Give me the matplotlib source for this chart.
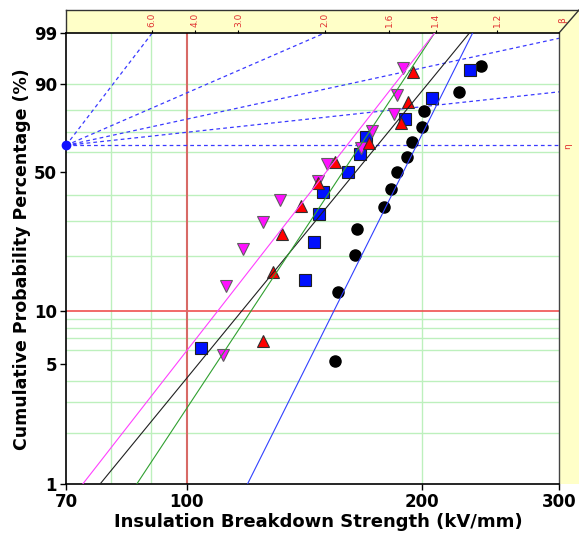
import numpy as np
import matplotlib

matplotlib.use("Agg")
import matplotlib.pyplot as plt
from matplotlib.patches import Polygon
from matplotlib.ticker import FixedLocator, NullLocator, FixedFormatter


W, H = 579, 535

circle_kv = [154.9, 156.4, 164.3, 165.2, 179.0, 182.5, 186.0, 191.7, 194.6, 200.0, 201.4, 223.5, 238.4]
circle_pct = [5.22, 12.69, 20.15, 27.61, 35.07, 42.54, 50.00, 57.46, 64.93, 72.39, 79.85, 87.31, 94.78]

square_kv = [104.2, 141.7, 145.7, 147.9, 149.4, 161.1, 166.7, 169.7, 190.4, 206.4, 230.7]
square_pct = [6.14, 14.91, 23.68, 32.46, 41.23, 50.00, 58.77, 67.54, 76.32, 85.09, 93.86]

up_kv = [125.1, 128.9, 132.4, 140.1, 147.3, 154.9, 171.2, 188.2, 192.3, 195.1]
up_pct = [6.73, 16.35, 25.96, 35.58, 45.19, 54.81, 64.42, 74.04, 83.65, 93.27]

down_kv = [111.2, 112.2, 118.2, 125.3, 131.7, 147.3, 151.1, 167.1, 172.6, 184.5, 185.8, 189.5]
down_pct = [5.65, 13.71, 21.77, 29.84, 37.90, 45.97, 54.03, 62.10, 70.16, 78.23, 86.29, 94.35]

# fitted Weibull lines: shape (beta) and scale (eta)
fit_beta = [9.22, 5.62, 6.97, 5.90]
fit_eta = [197.0, 175.5, 166.9, 160.4]
fit_colors = ["#3040ff", "#202020", "#30a030", "#ff40ff"]

# slope estimator lines through the pivot and the beta scale on top
guide_beta = [6.0, 2.0, 1.0, 0.5, 0.0]
scale_beta = [6.0, 4.0, 3.0, 2.0, 1.6, 1.4, 1.2]
scale_labels = ["6.0", "4.0", "3.0", "2.0", "1.6", "1.4", "1.2"]
pivot_kv = 70.0

y_ticks = [1, 5, 10, 50, 90, 99]
y_grid = [2, 3, 4, 6, 7, 8, 9, 20, 30, 40, 60, 70, 80, 90]
x_ticks = [70, 100, 200, 300]
x_grid = [80, 90, 200]


def weib(p):
    p = np.clip(np.asarray(p, dtype=float), 1e-6, 100 - 1e-6)
    return np.log(-np.log(1 - p / 100))


def weib_inv(w):
    return 100 * (1 - np.exp(-np.exp(np.asarray(w, dtype=float))))


def fx(px):
    return px / W


def fy(py):
    return 1 - py / H


fig = plt.figure(figsize=(W / 100, H / 100), dpi=100)
ax = fig.add_axes([fx(66), fy(484), fx(559) - fx(66), fy(33) - fy(484)])

ax.set_xscale("log")
ax.set_yscale("function", functions=(weib, weib_inv))
ax.set_xlim(70, 300)
ax.set_ylim(1, 99)

# yellow frame bands
band = "#ffffc8"
top_band = Polygon(
    [(fx(66), fy(33)), (fx(66), fy(10)), (fx(580), fy(10)), (fx(580), fy(484)),
     (fx(559), fy(484)), (fx(559), fy(33))],
    closed=True, transform=fig.transFigure, facecolor=band, edgecolor="none", zorder=-2,
)
fig.patches.append(top_band)
fig.lines.append(plt.Line2D([fx(66), fx(580)], [fy(10), fy(10)], transform=fig.transFigure,
                            color="#333333", lw=1, zorder=-1))
fig.lines.append(plt.Line2D([fx(66), fx(66)], [fy(10), fy(33)], transform=fig.transFigure,
                            color="#333333", lw=1, zorder=-1))
fig.lines.append(plt.Line2D([fx(559), fx(579)], [fy(33), fy(10)], transform=fig.transFigure,
                            color="#333333", lw=1, zorder=-1))

grid_green = "#bdf0bd"
for v in y_grid:
    ax.axhline(v, color=grid_green, lw=1, zorder=1)
for v in x_grid:
    ax.axvline(v, color=grid_green, lw=1, zorder=1)
ax.axhline(10, color="#f05050", lw=1.2, zorder=1.5)
ax.axvline(100, color="#d86a66", lw=1.5, zorder=1.5)

# slope guide lines from the pivot at 63.2 %
xs = np.geomspace(70, 300, 400)
for b in guide_beta:
    ax.plot(xs, weib_inv(b * np.log(xs / pivot_kv)), color="#3a3aff", lw=0.9,
            dashes=(3, 2.5), zorder=2)
ax.plot([pivot_kv], [weib_inv(0)], "o", color="#1010ff", ms=6, clip_on=False, zorder=6)

ax.plot(circle_kv, circle_pct, "o", color="black", mec="black", ms=8, zorder=3)
ax.plot(square_kv, square_pct, "s", color="#0010ff", mec="#202020", mew=0.8, ms=8, zorder=3)
ax.plot(down_kv, down_pct, "v", color="#ff10ff", mec="#606060", mew=0.8, ms=9, zorder=3)
ax.plot(up_kv, up_pct, "^", color="#ff0000", mec="#303030", mew=0.8, ms=9, zorder=3)

for b, eta, c in zip(fit_beta, fit_eta, fit_colors):
    ax.plot(xs, weib_inv(b * np.log(xs / eta)), color=c, lw=0.8, zorder=4)

ax.xaxis.set_major_locator(FixedLocator(x_ticks))
ax.xaxis.set_major_formatter(FixedFormatter([str(v) for v in x_ticks]))
ax.xaxis.set_minor_locator(NullLocator())
ax.yaxis.set_major_locator(FixedLocator(y_ticks))
ax.yaxis.set_major_formatter(FixedFormatter([str(v) for v in y_ticks]))
ax.yaxis.set_minor_locator(NullLocator())
ax.tick_params(axis="both", direction="out", length=4.5, width=1, labelsize=12, pad=2)
for lab in ax.get_xticklabels() + ax.get_yticklabels():
    lab.set_fontweight("bold")

for side in ["left", "bottom", "top"]:
    ax.spines[side].set_color("black")
    ax.spines[side].set_linewidth(1.2)
ax.spines["right"].set_color("#444444")
ax.spines["right"].set_linewidth(1)

# beta scale along the top edge
top_w = float(weib(99))
sec = ax.secondary_xaxis("top")
sec.xaxis.set_major_locator(FixedLocator([pivot_kv * np.exp(top_w / b) for b in scale_beta]))
sec.xaxis.set_major_formatter(FixedFormatter(scale_labels))
sec.xaxis.set_minor_locator(NullLocator())
sec.tick_params(axis="x", direction="out", length=2.5, width=0.8, labelsize=6.5,
                labelcolor="#e03030", labelrotation=90, pad=1.5)
sec.spines["top"].set_visible(False)

fig.text(fx(563), fy(20), "β", color="#e03030", fontsize=6.5, rotation=90, ha="center", va="center")
fig.text(fx(568), fy(146), "η", color="#e03030", fontsize=6.5, rotation=90, ha="center", va="center")

fig.text(fx(318), fy(522), "Insulation Breakdown Strength (kV/mm)", fontsize=13,
         fontweight="bold", ha="center", va="center")
fig.text(fx(22), fy(259), "Cumulative Probability Percentage (%)", fontsize=12.5,
         fontweight="bold", ha="center", va="center", rotation=90)

fig.savefig("out.png", dpi=100)
